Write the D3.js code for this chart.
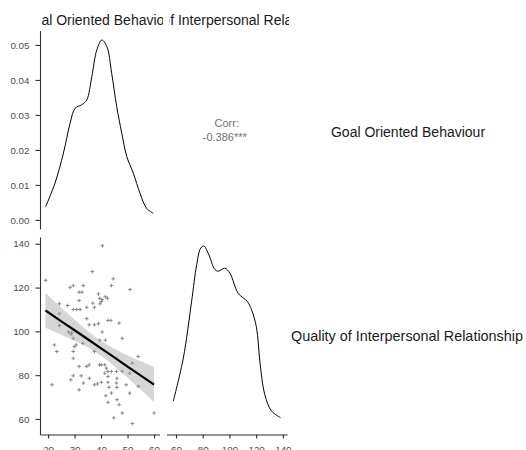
<!DOCTYPE html>
<html><head><meta charset="utf-8">
<script src="https://cdn.jsdelivr.net/npm/d3@7"></script>
<style>body{margin:0;background:#fff}svg{display:block}text{font-family:"Liberation Sans",Arial,sans-serif}</style>
</head><body><svg id="c" width="526" height="450"></svg>
<script>
const varNames = ["Goal Oriented Behaviour", "Quality of Interpersonal Relationship"];
const gobTicks = [20, 30, 40, 50, 60];
const qirTicks = [60, 80, 100, 120, 140];
const densTicks = [0, 0.01, 0.02, 0.03, 0.04, 0.05];
const corrLabel = "Corr:";
const corrValue = "-0.386***";

// scatter data: Goal Oriented Behaviour (x) vs Quality of Interpersonal Relationship (y)
const gob = [19.1,36.7,28.3,29.5,33.3,31.7,32.8,39.0,31.7,24.3,27.4,36.9,29.5,30.8,32.1,34.6,37.5,24.2,34.6,35.5,
  37.5,39.0,24.3,27.7,28.9,40.5,44.6,43.9,50.9,39.5,40.4,40.1,41.6,42.4,39.6,42.6,43.7,46.8,40.4,28.6,
  33.1,29.5,22.4,30.6,29.9,23.3,29.5,37.5,29.5,31.7,34.6,35.5,39.4,29.5,28.6,32.5,35.6,21.5,33.3,37.5,
  38.6,31.7,39.5,41.6,48.0,54.0,51.8,40.1,41.4,42.0,42.6,43.9,45.8,48.0,41.4,50.8,42.6,46.0,40.1,42.6,
  45.8,49.5,54.0,43.0,46.0,43.9,41.8,50.8,42.6,46.0,46.8,48.0,44.8,51.8,60.0];
const qir = [123.3,127.3,120.1,120.9,120.9,117.9,117.9,117.1,114.1,112.6,111.8,112.9,110,110,110,111,111,108,105.8,103,
  103,103.5,102.7,99.7,99.4,139.1,124,120.9,119.1,115.1,114.5,113.6,115.8,115.1,112.6,105,105,103.8,99.7,98.8,
  94.5,96.8,93.8,93.8,93.0,90.8,90.8,90.8,87.7,84,84,84.7,84.7,79.7,77.9,79.7,78.6,75.6,76.4,75.6,
  76.0,73.3,96.0,96.0,96.8,88.5,85.5,84.7,84.7,83.2,81.7,81.7,81.7,81.7,80.9,80.9,79.4,78.6,76.7,76.7,
  76.4,75.6,74.9,74.4,74.4,71.8,70.6,71.8,67.6,68.8,66.5,62.7,60.5,57.9,62.7];

// linear fit and its confidence half-width
const fitX  = [19, 25, 30, 35, 40, 45, 50, 55, 60];
const fitY  = [109.6, 104.6, 100.5, 96.4, 92.2, 88.1, 83.9, 79.8, 75.7];
const fitHW = [8.0, 6.2, 4.8, 3.8, 3.5, 4.0, 5.1, 6.5, 8.0];

// density curves
const gobDensX = [19.1,22.6,25.8,28.3,30.2,32.7,34.6,36.5,38.4,40.3,42.2,44.0,45.9,47.8,49.7,52.2,54.7,57.2,59.7];
const gobDensY = [0.0038,0.0105,0.0191,0.0276,0.0319,0.0329,0.0343,0.0409,0.0486,0.0514,0.0495,0.0419,0.0324,0.0248,0.0181,0.0133,0.0076,0.0033,0.0019];
const qirDensX = [58.0,65.5,71.7,75.5,78.5,80.9,84.1,89.2,91.6,96.6,100.4,106.6,113.3,116.6,120.3,122.8,126.5,131.6,138.3];
const qirDensY = [0.0034,0.0094,0.0173,0.0224,0.0247,0.0250,0.0240,0.0217,0.0215,0.0219,0.0212,0.0184,0.0173,0.0161,0.0136,0.0089,0.0043,0.0020,0.0011];

const svg = d3.select("#c");
const axisCol = "#333333", tickTextCol = "#4d4d4d";

const x1 = d3.scaleLinear().domain([16.95, 62.05]).range([40, 159.5]);
const x2 = d3.scaleLinear().domain([52.9, 143.1]).range([166.5, 287]);
const yD1 = d3.scaleLinear().domain([-0.0026, 0.0541]).range([229, 30.6]);
const y2 = d3.scaleLinear().domain([52.9, 143.1]).range([434.5, 237]);
const yD2 = d3.scaleLinear().domain([-0.00125, 0.02625]).range([434.5, 237]);

function styleAxis(g) {
  g.select(".domain").attr("stroke", axisCol).attr("stroke-width", 1.1);
  g.selectAll(".tick line").attr("stroke", axisCol).attr("stroke-width", 1.1);
  g.selectAll(".tick text").attr("fill", tickTextCol).style("font-size", "9.8px").attr("font-family", null);
}

// top strips (clipped)
const defs = svg.append("defs");
defs.append("clipPath").attr("id", "s1").append("rect").attr("x", 42).attr("y", 0).attr("width", 121).attr("height", 30);
defs.append("clipPath").attr("id", "s2").append("rect").attr("x", 169.5).attr("y", 0).attr("width", 119.5).attr("height", 30);
svg.append("text").attr("clip-path", "url(#s1)").attr("x", (x1.range()[0] + x1.range()[1]) / 2).attr("y", 25)
  .attr("text-anchor", "middle").style("font-size", "14px").attr("fill", "#1a1a1a").text(varNames[0]);
svg.append("text").attr("clip-path", "url(#s2)").attr("x", (x2.range()[0] + x2.range()[1]) / 2 + 1).attr("y", 25)
  .attr("text-anchor", "middle").style("font-size", "14px").attr("fill", "#1a1a1a").text(varNames[1]);

// right strips
svg.append("text").attr("x", 408).attr("y", 136.7).attr("text-anchor", "middle").style("font-size", "14px")
  .attr("fill", "#1a1a1a").text(varNames[0]);
svg.append("text").attr("x", 407).attr("y", 341).attr("text-anchor", "middle").style("font-size", "14.4px")
  .attr("fill", "#1a1a1a").text(varNames[1]);

// top-left density
const line1 = d3.line().x((d, i) => x1(gobDensX[i])).y(d => yD1(d)).curve(d3.curveCatmullRom);
svg.append("path").attr("d", line1(gobDensY)).attr("fill", "none").attr("stroke", "#000").attr("stroke-width", 1);
svg.append("g").attr("transform", "translate(40,0)")
  .call(d3.axisLeft(yD1).tickValues(densTicks).tickFormat(d3.format(".2f")).tickSize(4.5).tickPadding(6).tickSizeOuter(0))
  .call(styleAxis);

// correlation text
const cx = (x2.range()[0] + x2.range()[1]) / 2;
svg.append("text").attr("x", cx).attr("y", 126.7).attr("text-anchor", "middle").style("font-size", "11px")
  .attr("fill", "#707070").text(corrLabel);
svg.append("text").attr("x", cx - 2).attr("y", 140.7).attr("text-anchor", "middle").style("font-size", "11px")
  .attr("fill", "#707070").text(corrValue);

// scatter points
const pts = gob.map((g, i) => [g, qir[i]]);
svg.append("g").selectAll("path").data(pts).join("path")
  .attr("transform", d => `translate(${x1(d[0])},${y2(d[1])})`)
  .attr("d", "M-1.8,0H1.8M0,-1.8V1.8").attr("stroke", "#888888").attr("stroke-width", 1).attr("fill", "none");

// confidence band
const band = d3.area().x((d, i) => x1(fitX[i])).y0((d, i) => y2(fitY[i] - fitHW[i])).y1((d, i) => y2(fitY[i] + fitHW[i])).curve(d3.curveMonotoneX);
svg.append("path").attr("d", band(fitX)).attr("fill", "#999999").attr("fill-opacity", 0.4);
const fitLine = d3.line().x((d, i) => x1(fitX[i])).y((d, i) => y2(fitY[i]));
svg.append("path").attr("d", fitLine(fitX)).attr("fill", "none").attr("stroke", "#000").attr("stroke-width", 2.2);

svg.append("g").attr("transform", "translate(40,0)")
  .call(d3.axisLeft(y2).tickValues(qirTicks).tickSize(4.5).tickPadding(6).tickSizeOuter(0))
  .call(styleAxis);
svg.append("g").attr("transform", "translate(0,434.5)")
  .call(d3.axisBottom(x1).tickValues(gobTicks).tickSize(4).tickPadding(8).tickSizeOuter(0))
  .call(styleAxis);

// bottom-right density
const line2 = d3.line().x((d, i) => x2(qirDensX[i])).y(d => yD2(d)).curve(d3.curveCatmullRom);
svg.append("path").attr("d", line2(qirDensY)).attr("fill", "none").attr("stroke", "#000").attr("stroke-width", 1);
svg.append("g").attr("transform", "translate(0,434.5)")
  .call(d3.axisBottom(x2).tickValues(qirTicks).tickSize(4).tickPadding(8).tickSizeOuter(0))
  .call(styleAxis);
</script></body></html>
